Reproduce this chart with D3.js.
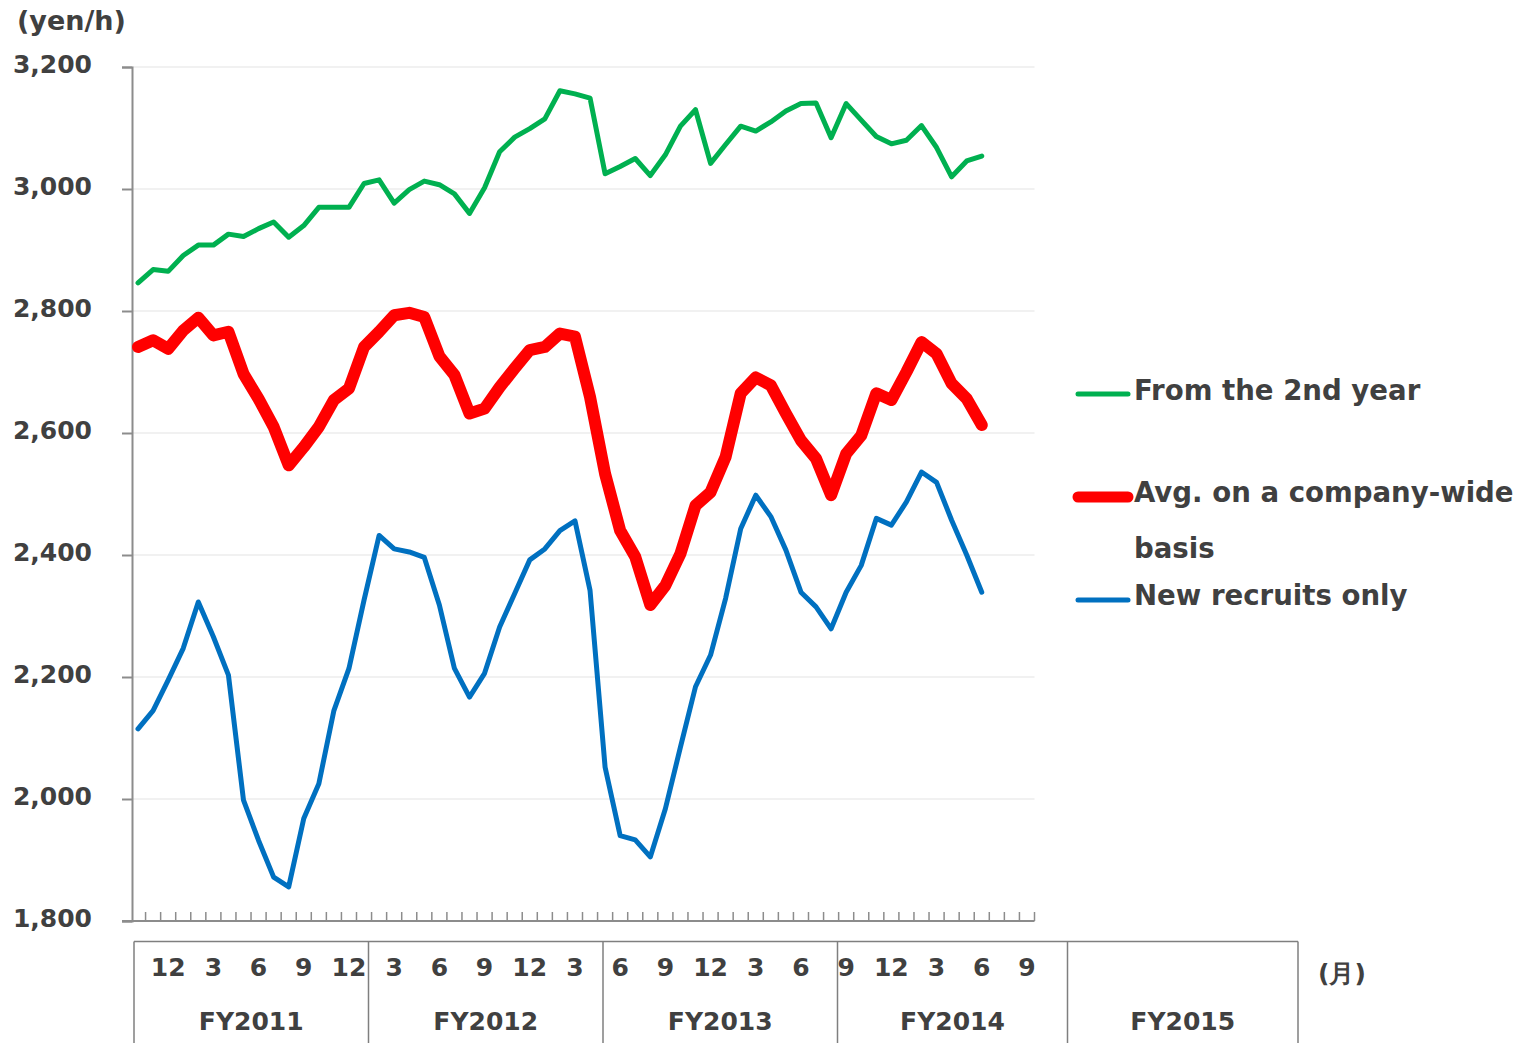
<!DOCTYPE html>
<html>
<head>
<meta charset="utf-8">
<script src="https://cdn.jsdelivr.net/npm/d3@7"></script>
<style>
  html, body { margin: 0; padding: 0; background: #fff; }
  svg text { font-family: "DejaVu Sans", Verdana, sans-serif; font-weight: bold; fill: #404040; }
</style>
</head>
<body>
<svg id="chart" width="1530" height="1043"></svg>
<script>
// Month of each monthly point, starting October 2011 (60 slots on the axis)
const months = [10,11,12,1,2,3,4,5,6,7,8,9,10,11,12,1,2,3,4,5,6,7,8,9,
                10,11,12,1,2,3,4,5,6,7,8,9,10,11,12,1,2,3,4,5,6,7,8,9,
                10,11,12,1,2,3,4,5,6,7,8,9];

// Hourly wage (yen/h)
const fromSecondYear = [2846,2868,2865,2891,2908,2908,2926,2922,2935,2946,2921,2940,
                        2970,2970,2970,3009,3015,2977,2999,3013,3007,2992,2960,3002,
                        3061,3085,3099,3115,3161,3156,3149,3025,3037,3050,3022,3056,
                        3103,3130,3042,3073,3103,3095,3110,3128,3140,3141,3084,3140,
                        3113,3086,3074,3080,3104,3068,3020,3046,3054];
const companyAvg     = [2741,2752,2738,2768,2789,2760,2766,2697,2656,2610,2547,2577,
                        2610,2654,2673,2741,2766,2793,2797,2790,2726,2695,2632,2640,
                        2675,2706,2736,2741,2763,2758,2659,2533,2440,2397,2318,2350,
                        2402,2481,2503,2561,2665,2691,2678,2632,2588,2558,2498,2566,
                        2596,2665,2654,2700,2749,2730,2681,2656,2613];
const newRecruits    = [2115,2145,2195,2247,2323,2266,2203,1998,1932,1872,1856,1968,
                        2025,2145,2214,2326,2432,2410,2405,2396,2318,2214,2167,2206,
                        2282,2337,2392,2410,2440,2456,2342,2052,1940,1933,1905,1984,
                        2085,2184,2236,2329,2443,2498,2463,2408,2339,2315,2279,2339,
                        2383,2460,2449,2487,2536,2519,2457,2400,2339];

const yTicks = [1800,2000,2200,2400,2600,2800,3000,3200];
const fiscalYears = ["FY2011","FY2012","FY2013","FY2014","FY2015"];
const seriesNames = ["From the 2nd year","Avg. on a company-wide basis","New recruits only"];

const svg = d3.select("#chart");
const textColor = "#404040";
const axisColor = "#8c8c8c";

const x = d3.scaleBand().domain(d3.range(months.length)).range([130.5, 1034.5]);
const y = d3.scaleLinear().domain([1800, 3200]).range([921, 67]);
const cx = i => x(i) + x.bandwidth() / 2;

// Horizontal gridlines
svg.append("g").selectAll("line")
  .data(yTicks.filter(v => v > 1800))
  .join("line")
  .attr("x1", 132).attr("x2", 1034.5)
  .attr("y1", d => y(d)).attr("y2", d => y(d))
  .attr("stroke", "#ededed").attr("stroke-width", 1.5);

// Y axis
const yAxis = svg.append("g")
  .attr("transform", "translate(132,0)")
  .call(d3.axisLeft(y).tickValues(yTicks).tickSize(10).tickPadding(30)
        .tickFormat(d3.format(",")));
yAxis.select(".domain").attr("stroke", axisColor).attr("stroke-width", 2);
yAxis.selectAll(".tick line").attr("stroke", axisColor).attr("stroke-width", 2);
yAxis.selectAll(".tick text")
  .attr("font-size", 25).attr("fill", textColor)
  .attr("font-family", "DejaVu Sans").attr("font-weight", "bold")
  .attr("dy", "0.22em");

// X axis line with small category-boundary ticks pointing up
svg.append("line")
  .attr("x1", 122).attr("x2", 1034.5).attr("y1", 921).attr("y2", 921)
  .attr("stroke", axisColor).attr("stroke-width", 2);
svg.append("g").selectAll("line")
  .data(d3.range(1, months.length + 1))
  .join("line")
  .attr("x1", d => x(0) + d * x.step()).attr("x2", d => x(0) + d * x.step())
  .attr("y1", 921).attr("y2", 912)
  .attr("stroke", axisColor).attr("stroke-width", 1.5);

// Axis unit labels
svg.append("text").attr("x", 17).attr("y", 30).attr("font-size", 27).text("(yen/h)");
svg.append("text").attr("x", 1318).attr("y", 982).attr("font-size", 25)
  .attr("font-family", "Noto Sans CJK JP").text("(月)");

// Fiscal-year table under the axis
const boxEdges = [134, 368.5, 603, 837.5, 1067.5, 1298];
const tbl = svg.append("g").attr("stroke", "#7f7f7f").attr("stroke-width", 1.5);
tbl.append("line").attr("x1", boxEdges[0]).attr("x2", boxEdges[5]).attr("y1", 941.5).attr("y2", 941.5);
tbl.selectAll("line.v").data(boxEdges).join("line").attr("class", "v")
  .attr("x1", d => d).attr("x2", d => d).attr("y1", 941.5).attr("y2", 1043);

svg.append("g").selectAll("text")
  .data(fiscalYears)
  .join("text")
  .attr("x", (d, i) => (boxEdges[i] + boxEdges[i + 1]) / 2)
  .attr("y", 1030).attr("text-anchor", "middle").attr("font-size", 25)
  .text(d => d);

// Month labels every quarter
svg.append("g").selectAll("text")
  .data(d3.range(months.length).filter(i => i % 3 === 2))
  .join("text")
  .attr("x", i => cx(i)).attr("y", 976)
  .attr("text-anchor", "middle").attr("font-size", 25)
  .text(i => months[i]);

// Series lines
const line = d3.line().x((d, i) => cx(i)).y(d => y(d));
const series = [
  { values: fromSecondYear, color: "#00b050", width: 5 },
  { values: companyAvg,     color: "#ff0000", width: 12 },
  { values: newRecruits,    color: "#0070c0", width: 5 }
];
svg.append("g").selectAll("path")
  .data(series)
  .join("path")
  .attr("d", s => line(s.values))
  .attr("fill", "none")
  .attr("stroke", s => s.color)
  .attr("stroke-width", s => s.width)
  .attr("stroke-linejoin", "round")
  .attr("stroke-linecap", "round");

// Legend
const legendRows = [
  { y: 394, lines: [{ t: seriesNames[0], y: 400 }] },
  { y: 497, lines: [{ t: "Avg. on a company-wide", y: 502 }, { t: "basis", y: 558 }] },
  { y: 600, lines: [{ t: seriesNames[2], y: 605 }] }
];
const lg = svg.append("g");
legendRows.forEach((row, k) => {
  lg.append("line")
    .attr("x1", 1078).attr("x2", 1128).attr("y1", row.y).attr("y2", row.y)
    .attr("stroke", series[k].color).attr("stroke-width", k === 1 ? 11 : 5)
    .attr("stroke-linecap", "round");
  row.lines.forEach(l => {
    lg.append("text").attr("x", 1134).attr("y", l.y).attr("font-size", 27.6).text(l.t);
  });
});
</script>
</body>
</html>
